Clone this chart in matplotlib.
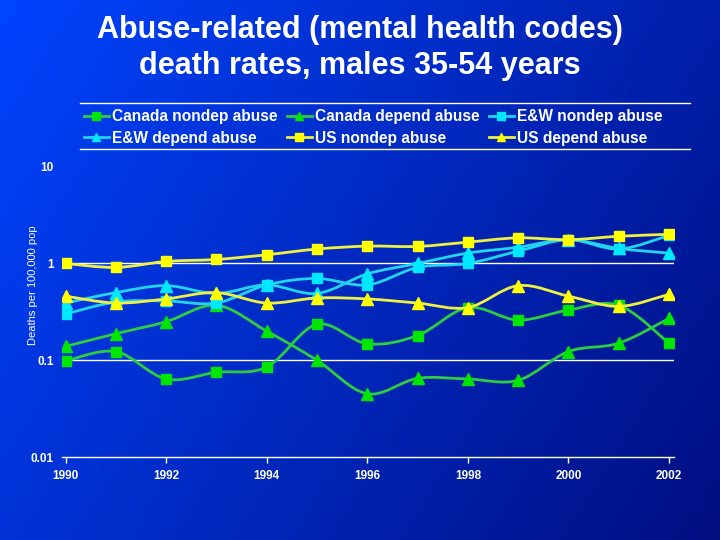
import numpy as np
import matplotlib
matplotlib.use("Agg")
import matplotlib.pyplot as plt
from matplotlib.path import Path
from matplotlib.patches import PathPatch
from matplotlib.lines import Line2D

plt.rcParams['font.family'] = ['Liberation Sans', 'DejaVu Sans']

years = list(range(1990, 2003))

# deaths per 100,000 population
canada_nondep = [0.098, 0.123, 0.064, 0.075, 0.085, 0.235, 0.148, 0.18, 0.35, 0.26, 0.33, 0.37, 0.15]
canada_depend = [0.139, 0.188, 0.25, 0.37, 0.20, 0.10, 0.045, 0.065, 0.064, 0.062, 0.123, 0.15, 0.27]
ew_nondep = [0.30, 0.40, 0.41, 0.39, 0.60, 0.70, 0.60, 0.91, 1.0, 1.34, 1.76, 1.41, 1.95]
ew_depend = [0.39, 0.50, 0.59, 0.49, 0.60, 0.49, 0.78, 1.0, 1.28, 1.47, 1.76, 1.43, 1.28]
us_nondep = [1.0, 0.91, 1.05, 1.1, 1.23, 1.41, 1.51, 1.5, 1.66, 1.84, 1.76, 1.91, 2.0]
us_depend = [0.46, 0.39, 0.43, 0.50, 0.39, 0.44, 0.43, 0.39, 0.35, 0.59, 0.46, 0.36, 0.48]

labels = ['Canada nondep abuse', 'Canada depend abuse', 'E&W nondep abuse',
          'E&W depend abuse', 'US nondep abuse', 'US depend abuse']
series = [canada_nondep, canada_depend, ew_nondep, ew_depend, us_nondep, us_depend]
markers = ['s', '^', 's', '^', 's', '^']
marker_colors = ['#00E600', '#00E600', '#00E8FF', '#00E8FF', '#FFFF00', '#FFFF00']
line_colors = ['#2ECC40', '#2ECC40', '#22D4F0', '#22D4F0', '#F0F040', '#F0F040']


def smooth_path(x, y):
    # Excel-style smoothed line: cubic Bezier segments, built in log space
    x = np.asarray(x, float)
    ly = np.log10(np.asarray(y, float))
    pts = np.column_stack([x, ly])
    n = len(pts)
    verts = [pts[0]]
    codes = [Path.MOVETO]
    for i in range(n - 1):
        p0 = pts[i - 1] if i > 0 else pts[i]
        p1 = pts[i]
        p2 = pts[i + 1]
        p3 = pts[i + 2] if i + 2 < n else pts[i + 1]
        c1 = p1 + (p2 - p0) / 6.0
        c2 = p2 - (p3 - p1) / 6.0
        verts += [c1, c2, p2]
        codes += [Path.CURVE4] * 3
    verts = np.array(verts)
    verts[:, 1] = 10 ** verts[:, 1]
    return Path(verts, codes)


fig = plt.figure(figsize=(7.2, 5.4), dpi=100)

# gradient background
bg = fig.add_axes([0, 0, 1, 1], zorder=-10)
gx, gy = np.meshgrid(np.linspace(0, 1, 300), np.linspace(0, 1, 240))
t = 0.68 * gx + 0.32 * gy
top = np.array([0, 68, 255]) / 255.0
bot = np.array([0, 14, 128]) / 255.0
img = top[None, None, :] * (1 - t[..., None]) + bot[None, None, :] * t[..., None]
bg.imshow(img, aspect='auto', extent=[0, 1, 0, 1])
bg.axis('off')

ax = fig.add_axes([0.0861, 0.1537, 0.85, 0.5376])
ax.patch.set_alpha(0)
ax.set_yscale('log')
ax.set_ylim(0.01, 10)
ax.set_xlim(1989.93, 2002.1)

for gv in [0.1, 1]:
    ax.axhline(gv, color='white', lw=1.0, zorder=1)

handles = []
for k, (vals, lab) in enumerate(zip(series, labels)):
    patch = PathPatch(smooth_path(years, vals), facecolor='none',
                      edgecolor=line_colors[k], lw=2.0, zorder=3 + 2 * k)
    ax.add_patch(patch)
    ms = 7.5 if markers[k] == 's' else 8
    ax.plot(years, vals, linestyle='none', marker=markers[k], ms=ms,
            mfc=marker_colors[k], mec=marker_colors[k], zorder=4 + 2 * k)
    handles.append(Line2D([], [], color=line_colors[k], lw=2.0, marker=markers[k],
                          ms=ms * 0.8, mfc=marker_colors[k], mec=marker_colors[k]))

for side in ['top', 'right', 'left']:
    ax.spines[side].set_visible(False)
ax.spines['bottom'].set_color('white')
ax.spines['bottom'].set_linewidth(1.0)

ax.set_xticks(range(1990, 2003, 2))
ax.set_xticklabels([str(y) for y in range(1990, 2003, 2)])
ax.set_yticks([0.01, 0.1, 1, 10])
ax.set_yticklabels(['0.01', '0.1', '1', '10'])
ax.yaxis.set_minor_locator(matplotlib.ticker.NullLocator())
ax.tick_params(axis='x', colors='white', length=4, width=1, direction='out', pad=5,
               labelsize=8.5)
ax.tick_params(axis='y', colors='white', length=0, pad=6, labelsize=8.5)
for lbl in ax.get_xticklabels() + ax.get_yticklabels():
    lbl.set_fontweight('bold')

fig.text(0.046, 0.361, 'Deaths per 100,000 pop', rotation=90, color='white',
         fontsize=8, ha='center', va='bottom')

fig.text(0.5, 0.945, 'Abuse-related (mental health codes)', color='white',
         fontsize=22, fontweight='bold', ha='center', va='center')
fig.text(0.5, 0.878, 'death rates, males 35-54 years', color='white',
         fontsize=22, fontweight='bold', ha='center', va='center')

# legend: row-wise order across three columns
order = [0, 3, 1, 4, 2, 5]
leg = fig.legend([handles[i] for i in order], [labels[i] for i in order], ncol=3,
                 loc='upper left', bbox_to_anchor=(84 / 720, 1 - 109 / 540),
                 frameon=False, borderpad=0,
                 prop={'weight': 'bold', 'size': 11.2}, handlelength=1.6,
                 handletextpad=0.2, columnspacing=0.6, labelspacing=0.42,
                 borderaxespad=0)
for txt in leg.get_texts():
    txt.set_color('white')
for yy in [1 - 103 / 540, 1 - 149 / 540]:
    fig.add_artist(Line2D([80 / 720, 690 / 720], [yy, yy], color='white', lw=1.0))

fig.savefig('out.png', dpi=100)
